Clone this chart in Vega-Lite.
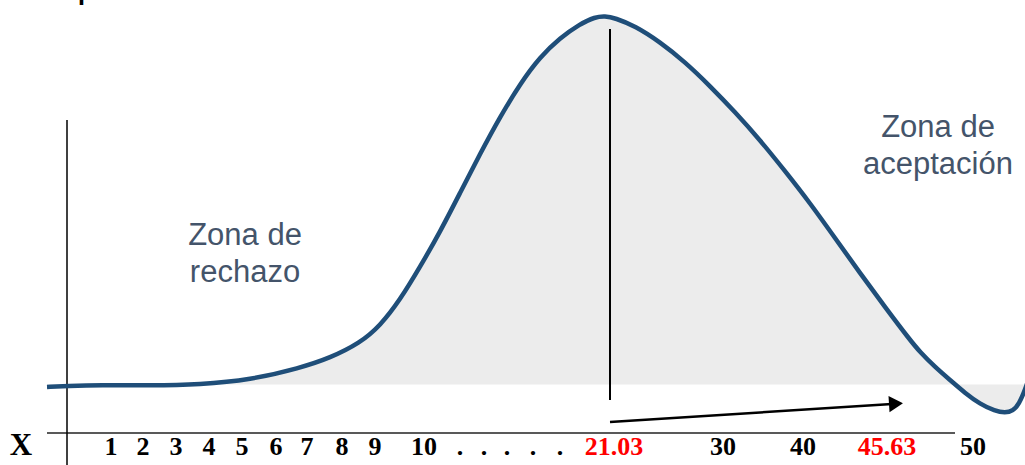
{
  "$schema": "https://vega.github.io/schema/vega-lite/v6.json",
  "width": 1025,
  "height": 465,
  "padding": 0,
  "autosize": {"type": "none"},
  "background": "white",
  "config": {"view": {"stroke": null}},
  "datasets": {
    "curve": [
      {"x": 47, "y": 78}, {"x": 67, "y": 79}, {"x": 100, "y": 80}, {"x": 150, "y": 79.5},
      {"x": 200, "y": 80.5}, {"x": 250, "y": 85}, {"x": 300, "y": 97}, {"x": 330, "y": 107},
      {"x": 360, "y": 122}, {"x": 380, "y": 139}, {"x": 400, "y": 165}, {"x": 420, "y": 198},
      {"x": 440, "y": 233}, {"x": 460, "y": 272}, {"x": 480, "y": 311}, {"x": 500, "y": 348},
      {"x": 520, "y": 381}, {"x": 540, "y": 408}, {"x": 560, "y": 427}, {"x": 580, "y": 441},
      {"x": 595, "y": 448}, {"x": 605, "y": 449}, {"x": 615, "y": 447}, {"x": 635, "y": 439},
      {"x": 660, "y": 423}, {"x": 685, "y": 403}, {"x": 710, "y": 379}, {"x": 735, "y": 353},
      {"x": 760, "y": 325}, {"x": 785, "y": 294}, {"x": 810, "y": 262}, {"x": 835, "y": 227},
      {"x": 860, "y": 192}, {"x": 885, "y": 158}, {"x": 910, "y": 125}, {"x": 920, "y": 113},
      {"x": 935, "y": 98}, {"x": 950, "y": 85}, {"x": 965, "y": 72}, {"x": 980, "y": 61},
      {"x": 995, "y": 54}, {"x": 1005, "y": 52}, {"x": 1013, "y": 54}, {"x": 1019, "y": 61},
      {"x": 1025, "y": 75}, {"x": 1030, "y": 90}
    ],
    "ticks": [
      {"x": 111, "y": 10, "label": "1", "kind": "n"},
      {"x": 143, "y": 10, "label": "2", "kind": "n"},
      {"x": 176, "y": 10, "label": "3", "kind": "n"},
      {"x": 209, "y": 10, "label": "4", "kind": "n"},
      {"x": 242, "y": 10, "label": "5", "kind": "n"},
      {"x": 276, "y": 10, "label": "6", "kind": "n"},
      {"x": 307, "y": 10, "label": "7", "kind": "n"},
      {"x": 342, "y": 10, "label": "8", "kind": "n"},
      {"x": 375, "y": 10, "label": "9", "kind": "n"},
      {"x": 424, "y": 10, "label": "10", "kind": "n"},
      {"x": 460, "y": 10, "label": ".", "kind": "n"},
      {"x": 484, "y": 10, "label": ".", "kind": "n"},
      {"x": 507, "y": 10, "label": ".", "kind": "n"},
      {"x": 533, "y": 10, "label": ".", "kind": "n"},
      {"x": 560, "y": 10, "label": ".", "kind": "n"},
      {"x": 614, "y": 10, "label": "21.03", "kind": "crit"},
      {"x": 723, "y": 10, "label": "30", "kind": "n"},
      {"x": 803, "y": 10, "label": "40", "kind": "n"},
      {"x": 887, "y": 10, "label": "45.63", "kind": "crit"},
      {"x": 973, "y": 10, "label": "50", "kind": "n"}
    ]
  },
  "encoding": {
    "x": {"type": "quantitative", "scale": {"domain": [0, 1025], "nice": false, "zero": false}, "axis": null},
    "y": {"type": "quantitative", "scale": {"domain": [0, 465], "nice": false, "zero": false}, "axis": null}
  },
  "layer": [
    {
      "data": {"name": "curve"},
      "mark": {"type": "area", "color": "#ECECEC", "interpolate": "basis", "clip": true},
      "encoding": {"x": {"field": "x"}, "y": {"field": "y"}, "y2": {"datum": 80.5}}
    },
    {
      "data": {"values": [{"x": 47, "x2": 955, "y": 32}]},
      "mark": {"type": "rule", "color": "#222222", "strokeWidth": 1.5},
      "encoding": {"x": {"field": "x"}, "x2": {"field": "x2"}, "y": {"field": "y"}}
    },
    {
      "data": {"values": [{"x": 67, "y": 345, "y2": 0}]},
      "mark": {"type": "rule", "color": "#000000", "strokeWidth": 1.5},
      "encoding": {"x": {"field": "x"}, "y": {"field": "y"}, "y2": {"field": "y2"}}
    },
    {
      "data": {"values": [{"x": 610, "y": 436, "y2": 65}]},
      "mark": {"type": "rule", "color": "#000000", "strokeWidth": 2},
      "encoding": {"x": {"field": "x"}, "y": {"field": "y"}, "y2": {"field": "y2"}}
    },
    {
      "data": {"name": "curve"},
      "mark": {"type": "line", "color": "#1F4E79", "strokeWidth": 4.5, "interpolate": "basis", "clip": true},
      "encoding": {"x": {"field": "x"}, "y": {"field": "y"}}
    },
    {
      "data": {"values": [{"x": 610, "y": 43, "x2": 892, "y2": 61}]},
      "mark": {"type": "rule", "color": "#000000", "strokeWidth": 2.5},
      "encoding": {"x": {"field": "x"}, "y": {"field": "y"}, "x2": {"field": "x2"}, "y2": {"field": "y2"}}
    },
    {
      "data": {"values": [{"x": 896, "y": 61.3}]},
      "mark": {"type": "point", "shape": "triangle-right", "filled": true, "color": "#000000", "size": 260, "angle": -3.6, "opacity": 1},
      "encoding": {"x": {"field": "x"}, "y": {"field": "y"}}
    },
    {
      "data": {"values": [
        {"x": 245, "y": 220, "label": "Zona de\nrechazo"},
        {"x": 938, "y": 328, "label": "Zona de\naceptación"}
      ]},
      "mark": {"type": "text", "font": "Liberation Sans", "fontSize": 31, "color": "#44546A", "align": "center", "baseline": "alphabetic", "lineBreak": "\n", "lineHeight": 37},
      "encoding": {"x": {"field": "x"}, "y": {"field": "y"}, "text": {"field": "label"}}
    },
    {
      "data": {"values": [{"x": 77, "y": 468, "label": "p"}]},
      "mark": {"type": "text", "font": "Liberation Sans", "fontSize": 40, "color": "#000000", "align": "left", "baseline": "alphabetic"},
      "encoding": {"x": {"field": "x"}, "y": {"field": "y"}, "text": {"field": "label"}}
    },
    {
      "data": {"values": [{"x": 21, "y": 10, "label": "X"}]},
      "mark": {"type": "text", "font": "Liberation Serif", "fontWeight": "bold", "fontSize": 31, "color": "#000000", "align": "center", "baseline": "alphabetic"},
      "encoding": {"x": {"field": "x"}, "y": {"field": "y"}, "text": {"field": "label"}}
    },
    {
      "data": {"name": "ticks"},
      "mark": {"type": "text", "font": "Liberation Serif", "fontWeight": "bold", "fontSize": 26, "align": "center", "baseline": "alphabetic"},
      "encoding": {
        "x": {"field": "x"},
        "y": {"field": "y"},
        "text": {"field": "label"},
        "color": {"field": "kind", "type": "nominal", "scale": {"domain": ["n", "crit"], "range": ["#000000", "#FF0000"]}, "legend": null}
      }
    }
  ]
}
